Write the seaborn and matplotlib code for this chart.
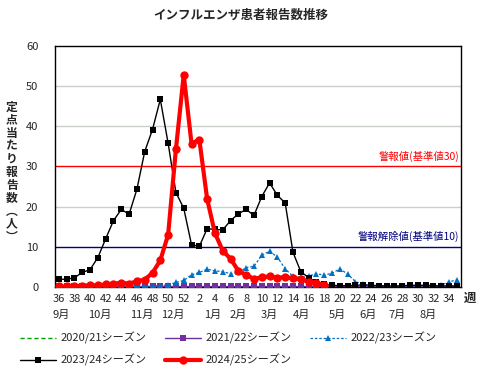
import numpy as np
import pandas as pd
import matplotlib
matplotlib.use("Agg")
import matplotlib.pyplot as plt
import matplotlib.transforms as mtransforms
import seaborn as sns

sns.set_style("white")
plt.rcParams['font.family'] = ['Noto Sans CJK JP', 'DejaVu Sans']

# weeks 36..52, 1..35
weeks = list(range(36, 53)) + list(range(1, 36))
week_labels = [str(w) if i % 2 == 0 else "" for i, w in enumerate(weeks)]
months = ["9月", "10月", "11月", "12月", "1月", "2月", "3月", "4月", "5月", "6月", "7月", "8月"]

s2020 = [0.0] * 52
s2021 = [0.2] * 52
s2022 = [0.1, 0.1, 0.1, 0.1, 0.1, 0.1, 0.1, 0.1, 0.1, 0.1, 0.1, 0.1, 0.2, 0.3, 0.5, 1.1,
         1.6, 3.0, 3.6, 4.4, 4.0, 3.8, 3.3, 3.6, 4.8, 5.1, 7.9, 8.9, 7.4, 4.5, 2.6, 2.4,
         2.7, 3.3, 2.9, 3.4, 4.5, 3.2, 1.3, 0.7, 0.3, 0.3, 0.3, 0.2, 0.3, 0.3, 0.3, 0.3,
         0.3, 0.4, 1.3, 1.7]
s2023 = [1.9, 1.9, 2.3, 3.6, 4.3, 7.3, 12.0, 16.5, 19.3, 18.1, 24.3, 33.7, 39.2, 46.7, 35.8, 23.5,
         19.6, 10.5, 10.1, 14.5, 14.3, 14.2, 16.5, 18.2, 19.3, 17.8, 22.5, 25.9, 22.8, 20.9, 8.6, 3.8,
         2.3, 1.2, 0.6, 0.4, 0.3, 0.3, 0.4, 0.5, 0.4, 0.3, 0.2, 0.2, 0.3, 0.4, 0.4, 0.4,
         0.3, 0.2, 0.3, 0.2]
s2024 = [0.1, 0.1, 0.2, 0.3, 0.4, 0.4, 0.6, 0.8, 1.0, 0.8, 1.4, 1.8, 3.5, 6.6, 13.0, 34.3,
         52.8, 35.7, 36.7, 21.9, 13.4, 9.0, 7.0, 4.0, 3.0, 2.0, 2.4, 2.6, 2.3, 2.4, 2.2, 1.9,
         1.3, 1.0, 0.5]

x = np.arange(len(weeks))

fig = plt.figure(figsize=(4.82, 3.77), dpi=100)
ax = fig.add_axes([0.114, 0.239, 0.842, 0.639])

for v in [20, 40, 50]:
    ax.axhline(v, color="#c8d0c8", lw=1, zorder=0)
ax.axhline(30, color="#ff0000", lw=1, zorder=1)
ax.axhline(10, color="#000080", lw=1, zorder=1)

series = [
    ("2020/21シーズン", s2020, dict(color="#00a000", lw=1, ls=(0, (3, 2)), marker=None)),
    ("2021/22シーズン", s2021, dict(color="#7030a0", lw=1, ls="-", marker="s", markersize=4)),
    ("2022/23シーズン", s2022, dict(color="#0070c0", lw=0.9, ls=(0, (2, 1.5)), marker="^", markersize=4.5)),
    ("2023/24シーズン", s2023, dict(color="black", lw=1, ls="-", marker="s", markersize=3.8)),
    ("2024/25シーズン", s2024, dict(color="#ff0000", lw=3, ls="-", marker="o", markersize=6)),
]
for name, vals, st in series:
    df = pd.DataFrame({"x": x[:len(vals)], "y": vals})
    sns.lineplot(data=df, x="x", y="y", ax=ax, label=name, color=st["color"],
                 linewidth=st["lw"], linestyle=st["ls"], marker=st["marker"],
                 markersize=st.get("markersize", 0), markeredgewidth=0, zorder=3)

ax.set_xlim(-0.5, 51.5)
ax.set_ylim(0, 60)
ax.set_yticks(range(0, 61, 10))
ax.set_xticks(x)
ax.set_xticklabels(week_labels)
ax.tick_params(axis="x", length=3, width=0.8, direction="out", pad=2, labelsize=8)
ax.tick_params(axis="y", length=0, pad=12, labelsize=8)
ax.set_xlabel("")
ax.set_ylabel("")
for sp in ax.spines.values():
    sp.set_color("black")
    sp.set_linewidth(1)

# month labels
trans = mtransforms.blended_transform_factory(ax.transData, fig.transFigure)
month_pos = [0.35, 5.3, 10.6, 14.6, 19.7, 23.0, 27.0, 31.1, 35.7, 39.6, 43.4, 47.3]
for m, p in zip(months, month_pos):
    ax.text(p, 1 - 315 / 377, m, transform=trans, ha="center", va="center", fontsize=8)

ax.text(1.0, 1 - 298 / 377, " 週", transform=mtransforms.blended_transform_factory(ax.transAxes, fig.transFigure),
        ha="left", va="center", fontsize=9, fontweight="bold")

ax.text(51.3, 31.2, "警報値(基準値30)", color="#ff0000", ha="right", va="bottom", fontsize=7.5)
ax.text(51.3, 11.2, "警報解除値(基準値10)", color="#000080", ha="right", va="bottom", fontsize=7.5)

fig.text(0.5, 1 - 15 / 377, "インフルエンザ患者報告数推移", ha="center", va="center",
         fontsize=9, fontweight="bold")

ylab = "\n".join(["定", "点", "当", "た", "り", "報", "告", "数", "︵", "人", "︶"])
fig.text(12 / 482, 1 - 172 / 377, ylab, ha="center", va="center", fontsize=8.5,
         fontweight="bold", linespacing=1.0)

handles, labels = ax.get_legend_handles_labels()
ax.get_legend().remove()
order = [0, 3, 1, 4, 2]
fig.legend([handles[i] for i in order], [labels[i] for i in order], ncol=3,
           loc="upper left", bbox_to_anchor=(0.02, 1 - 322 / 377), frameon=False,
           fontsize=8, handlelength=3.3, columnspacing=1.6, labelspacing=0.9,
           handletextpad=0.4)

fig.savefig("out.png", dpi=100)
